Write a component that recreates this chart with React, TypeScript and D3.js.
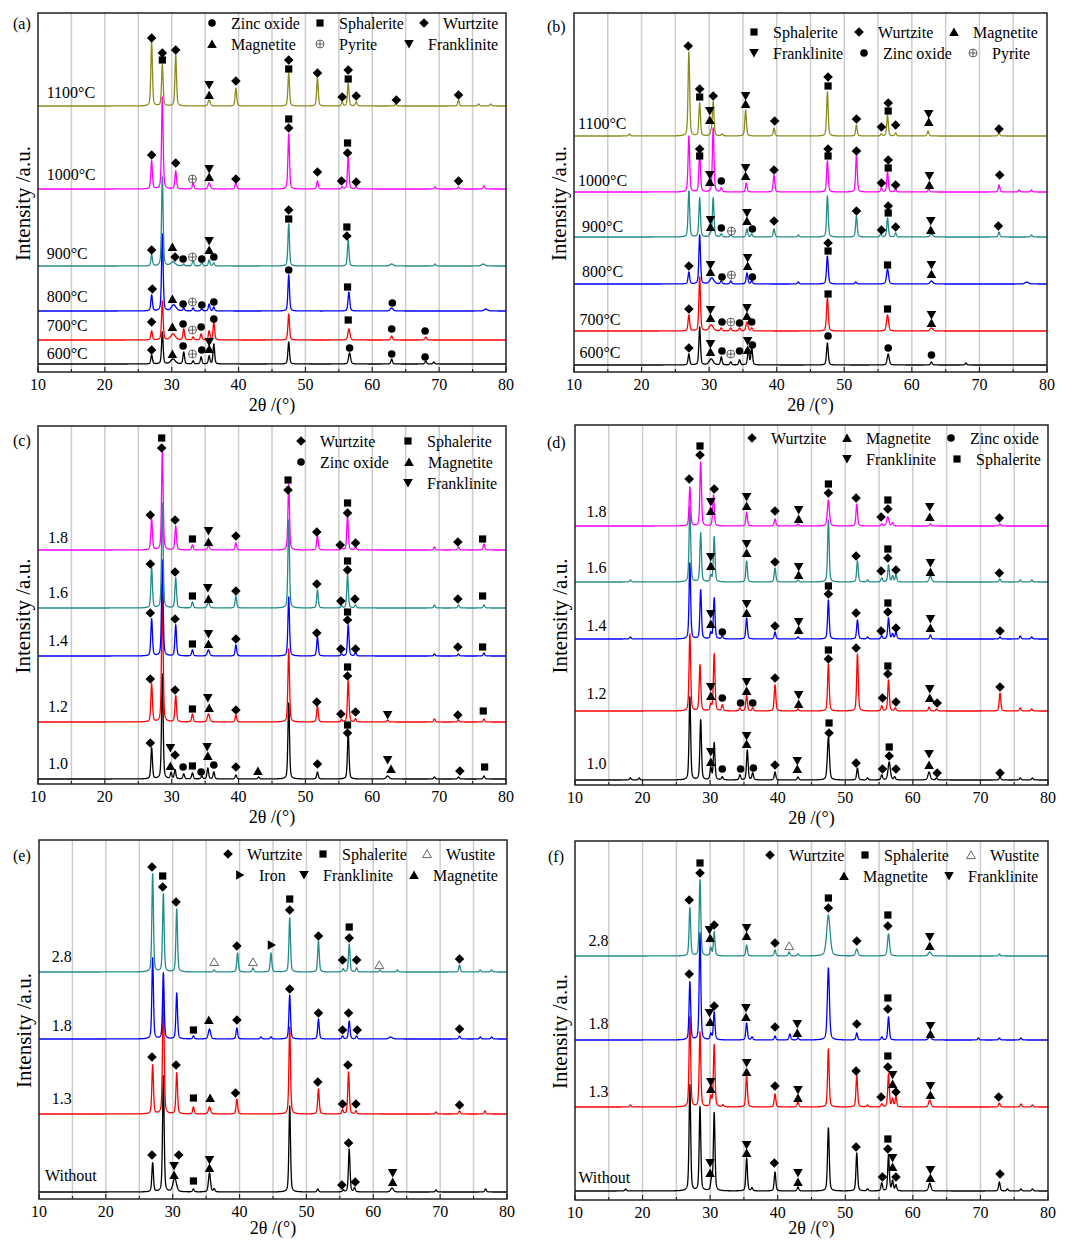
import * as d3 from "d3";
import { useEffect, useRef } from "react";

// symbols: D wurtzite, S sphalerite, C zinc oxide, U magnetite, V franklinite,
// P pyrite, W wustite, R iron. Heights are in a.u. above each panel's bottom.

// ---------- (a) roasting temperature ----------
const aLabels = ["600°C", "700°C", "800°C", "900°C", "1000°C", "1100°C"];
const aColors = ["#000000", "#ff0000", "#0000ff", "#238b8b", "#ff00ff", "#8c8c1e"];
const aBase = [8, 32, 61, 106, 183, 266];
const aLabelPos = [[11.3, 19], [11.3, 47], [11.3, 76], [11.3, 119], [11.3, 198], [11.3, 280]];
const aPeaks = [
  [[27.0, 9], [28.6, 32], [30.2, 5, 0.4], [31.8, 12], [33.2, 3], [34.4, 7], [35.6, 8], [36.3, 20], [47.5, 22], [56.6, 11, 0.18], [62.9, 5], [68.0, 3], [69.2, 2]],
  [[27.0, 9], [28.6, 39], [30.2, 6, 0.4], [31.8, 11], [33.2, 3], [34.4, 6], [35.6, 9], [36.3, 18], [47.5, 26], [56.5, 11, 0.18], [62.9, 4], [68.0, 3]],
  [[27.0, 16], [28.6, 77], [30.3, 6, 0.4], [31.8, 3], [33.2, 3], [34.5, 2], [35.6, 7], [36.3, 4], [47.5, 36], [56.5, 19, 0.15], [62.9, 3, 0.25], [77, 2, 0.3]],
  [[27.0, 11], [28.6, 89], [30.2, 4, 0.4], [31.8, 2], [33.2, 6], [34.5, 4], [35.6, 6], [36.3, 3], [47.5, 42], [56.4, 26], [62.9, 2, 0.3], [69.4, 2], [76.6, 2, 0.3]],
  [[27.0, 28], [28.6, 92], [30.6, 18], [33.2, 6], [35.6, 6, 0.2], [39.6, 7], [47.5, 55], [51.8, 8], [55.5, 2], [56.4, 32], [57.6, 2], [69.4, 2], [72.9, 2], [76.7, 3]],
  [[27.0, 64], [28.6, 41], [30.6, 51], [35.6, 6, 0.2], [39.6, 18], [47.5, 33], [51.8, 28], [55.5, 4], [56.4, 23], [57.6, 4], [63.5, 2], [72.9, 6], [75.9, 2], [77.7, 2]],
];
const aMarks = [
  [27.0, 334, "D"], [28.6, 319, "D"], [28.6, 312, "S"], [30.6, 322, "D"], [35.6, 287, "V"], [35.6, 277, "U"],
  [39.6, 291, "D"], [47.5, 312, "D"], [47.5, 303, "S"], [51.8, 299, "D"], [56.4, 302, "D"], [56.4, 293, "S"],
  [55.5, 275, "D"], [57.6, 276, "D"], [63.6, 272, "D"], [72.9, 277, "D"],
  [27.0, 217, "D"], [30.6, 209, "D"], [33.1, 193, "P"], [35.6, 203, "V"], [35.6, 195, "U"], [39.6, 193, "D"],
  [47.5, 253, "S"], [47.5, 244, "D"], [51.8, 200, "D"], [55.4, 191, "D"], [56.3, 229, "S"], [56.3, 219, "D"],
  [57.6, 190, "D"], [72.9, 191, "D"],
  [27.0, 122, "D"], [30.1, 125, "U"], [30.5, 115, "D"], [31.7, 113, "C"], [33.1, 115, "P"], [34.5, 113, "C"],
  [35.6, 131, "V"], [35.6, 122, "U"], [36.3, 115, "C"], [47.5, 162, "D"], [47.5, 153, "S"], [56.2, 145, "S"], [56.2, 136, "D"],
  [27.1, 83, "D"], [30.1, 73, "U"], [31.7, 68, "C"], [33.1, 70, "P"], [34.5, 67, "C"], [36.3, 70, "C"],
  [47.5, 102, "C"], [56.3, 85, "S"], [63.0, 69, "C"],
  [27.0, 50, "D"], [30.1, 45, "U"], [31.7, 48, "C"], [33.1, 42, "P"], [34.4, 45, "C"], [36.3, 53, "C"],
  [56.4, 52, "S"], [62.9, 43, "C"], [67.9, 41, "C"],
  [27.0, 22, "D"], [30.1, 18, "U"], [31.7, 26, "C"], [33.1, 18, "P"], [34.5, 22, "C"], [35.6, 30, "V"], [35.6, 23, "U"],
  [56.6, 24, "C"], [62.9, 18, "C"], [67.9, 15, "C"],
];
const aLegend = [["C", "Zinc oxide"], ["S", "Sphalerite"], ["D", "Wurtzite"], ["U", "Magnetite"], ["P", "Pyrite"], ["V", "Franklinite"]];

// ---------- (b) ----------
const bLabels = aLabels;
const bColors = aColors;
const bBase = [7, 41, 88, 135, 180, 236];
const bLabelPos = [[10.8, 20], [10.8, 53], [11.2, 101], [11.2, 146], [10.6, 192], [10.6, 249]];
const bPeaks = [
  [[27.0, 11], [28.6, 38], [30.3, 6, 0.35], [31.8, 8], [33.2, 3], [34.5, 5], [35.8, 15], [36.3, 18], [47.5, 22, 0.15], [56.5, 11, 0.18], [62.9, 3], [68, 2]],
  [[27.0, 16], [28.6, 54], [30.3, 6, 0.35], [31.8, 3], [33.2, 3], [34.5, 3], [35.6, 9, 0.18], [36.3, 3], [47.5, 33, 0.15], [56.4, 16, 0.18], [62.9, 3, 0.25]],
  [[27.0, 12], [28.6, 49], [30.4, 6, 0.35], [31.8, 3], [33.2, 3], [35.6, 11, 0.15], [36.3, 3], [43.2, 2], [47.5, 28, 0.15], [51.7, 2], [56.4, 15, 0.18], [62.9, 3, 0.25], [77, 2, 0.3]],
  [[27.0, 46], [28.6, 39], [30.6, 39], [30.2, 3], [31.8, 3], [33.2, 2], [35.6, 8], [36.3, 3], [39.6, 8], [43.2, 2], [47.5, 41], [51.8, 21], [55.4, 3], [56.4, 19], [57.6, 4], [62.9, 3, 0.25], [72.9, 5], [77.7, 2]],
  [[27.0, 56], [28.6, 39], [30.6, 64], [31.8, 4], [35.5, 9], [39.6, 17], [47.5, 31], [51.8, 37], [55.5, 4], [56.4, 20], [57.6, 3], [62.5, 3], [72.9, 7], [75.9, 2], [77.7, 2]],
  [[18.2, 2], [27.0, 84], [28.6, 33], [30.3, 4], [30.6, 34], [31.9, 2], [35.4, 26], [39.6, 8], [47.5, 44], [51.8, 11], [55.5, 2], [56.4, 21], [57.6, 3], [62.4, 5], [72.9, 3]],
];
const bMarks = [
  [26.9, 326, "D"], [28.6, 283, "D"], [28.6, 275, "S"], [30.1, 261, "V"], [30.1, 252, "U"], [30.6, 276, "D"],
  [35.4, 276, "V"], [35.4, 268, "U"], [39.7, 251, "D"], [47.6, 295, "D"], [47.6, 286, "S"], [51.8, 253, "D"],
  [55.5, 245, "D"], [56.5, 269, "D"], [56.5, 261, "S"], [57.6, 247, "D"], [62.5, 258, "V"], [62.5, 250, "U"], [72.9, 243, "D"],
  [28.6, 223, "D"], [28.6, 216, "S"], [30.1, 197, "V"], [30.1, 190, "U"], [31.8, 191, "C"], [35.4, 204, "V"], [35.4, 196, "U"],
  [39.6, 202, "D"], [47.6, 223, "D"], [47.6, 216, "S"], [51.8, 221, "D"], [55.5, 189, "D"], [56.5, 212, "D"], [56.5, 204, "S"],
  [57.6, 187, "D"], [62.6, 196, "V"], [62.6, 187, "U"], [73.0, 197, "D"],
  [30.2, 152, "V"], [30.2, 145, "U"], [31.8, 144, "C"], [33.3, 141, "P"], [35.6, 159, "V"], [35.6, 151, "U"], [36.4, 143, "C"],
  [39.6, 151, "D"], [51.8, 161, "D"], [55.5, 142, "D"], [56.5, 166, "D"], [56.5, 159, "S"], [57.6, 145, "D"],
  [62.8, 151, "V"], [62.8, 142, "U"], [72.8, 146, "D"],
  [27.0, 106, "D"], [30.2, 107, "V"], [30.2, 100, "U"], [31.9, 95, "C"], [33.3, 97, "P"], [35.7, 114, "V"], [35.7, 106, "U"],
  [36.4, 95, "C"], [47.6, 129, "D"], [47.6, 121, "S"], [56.4, 107, "S"], [62.9, 107, "V"], [62.9, 98, "U"],
  [27.0, 63, "D"], [30.2, 62, "V"], [30.2, 54, "U"], [31.9, 50, "C"], [33.2, 50, "P"], [34.5, 49, "C"], [35.6, 64, "V"], [35.6, 56, "U"],
  [36.3, 50, "C"], [47.6, 78, "S"], [56.4, 63, "S"], [62.9, 57, "V"], [62.9, 49, "U"],
  [27.0, 24, "D"], [30.2, 28, "V"], [30.2, 20, "U"], [31.9, 21, "C"], [33.2, 18, "P"], [34.5, 21, "C"], [35.7, 31, "V"], [35.7, 22, "U"],
  [36.4, 27, "C"], [47.6, 36, "C"], [56.5, 24, "C"], [62.9, 17, "C"],
];
const bLegend = [["S", "Sphalerite"], ["D", "Wurtzite"], ["U", "Magnetite"], ["V", "Franklinite"], ["C", "Zinc oxide"], ["P", "Pyrite"]];

// ---------- (c) ----------
const cLabels = ["1.0", "1.2", "1.4", "1.6", "1.8"];
const cColors = ["#000000", "#ff0000", "#0000ff", "#238b8b", "#ff00ff"];
const cBase = [5, 62, 128, 176, 234];
const cLabelPos = [[11.5, 21], [11.5, 78], [11.5, 144], [11.5, 192], [11.5, 247]];
const cPeaks = [
  [[27.0, 31], [28.6, 105], [29.9, 6], [30.5, 9], [31.8, 5], [33.1, 6], [34.5, 3], [35.4, 11], [36.3, 7], [39.6, 4], [43, 2], [47.5, 76], [51.8, 7], [56.4, 46], [62.3, 3, 0.25], [69.3, 2], [72.9, 2], [76.7, 3]],
  [[27.0, 38], [28.6, 129], [30.6, 26], [33.1, 8], [35.5, 8, 0.2], [39.6, 7], [47.5, 73], [51.8, 16], [55.4, 2], [56.4, 41], [57.5, 3], [62.3, 2], [69.3, 3], [72.9, 2], [76.7, 3]],
  [[27.0, 37], [28.6, 96], [30.6, 31], [33.1, 6], [35.5, 6, 0.2], [39.6, 11], [47.5, 59], [51.8, 19], [55.4, 2], [56.4, 31], [57.5, 3], [69.3, 2], [72.9, 2], [76.7, 3]],
  [[27.0, 40], [28.6, 105], [30.6, 30], [33.1, 6], [35.5, 6, 0.2], [39.6, 12], [47.5, 88], [51.8, 18], [55.4, 2], [56.3, 33], [57.5, 3], [69.3, 3], [72.9, 3], [76.7, 3]],
  [[27.0, 31], [28.6, 99], [30.6, 24], [33.1, 5], [35.5, 4, 0.2], [39.6, 7], [47.5, 66], [51.8, 14], [55.4, 2], [56.3, 34], [57.5, 3], [69.3, 3], [72.9, 3], [76.7, 6]],
];
const cMarks = [
  [26.8, 269, "D"], [28.5, 346, "S"], [28.5, 336, "D"], [30.5, 264, "D"], [33.1, 245, "S"], [35.5, 253, "V"], [35.5, 242, "U"],
  [39.6, 248, "D"], [47.4, 304, "S"], [47.4, 294, "D"], [51.7, 252, "D"], [55.2, 239, "D"], [56.3, 281, "S"], [56.3, 271, "D"],
  [57.5, 241, "D"], [72.8, 242, "D"], [76.5, 245, "S"],
  [26.8, 220, "D"], [30.5, 212, "D"], [33.1, 188, "S"], [35.4, 196, "V"], [35.5, 185, "U"], [39.6, 193, "D"], [51.7, 200, "D"],
  [55.3, 183, "D"], [56.3, 223, "S"], [56.3, 214, "D"], [57.4, 185, "D"], [72.8, 185, "D"], [76.5, 188, "S"],
  [26.8, 171, "D"], [30.5, 165, "D"], [33.1, 140, "S"], [35.5, 150, "V"], [35.5, 140, "U"], [39.6, 145, "D"], [51.7, 151, "D"],
  [55.3, 135, "D"], [56.3, 172, "S"], [56.3, 164, "D"], [57.5, 135, "D"], [72.8, 137, "D"], [76.5, 137, "S"],
  [26.8, 105, "D"], [30.5, 94, "D"], [33.1, 75, "S"], [35.4, 86, "V"], [35.6, 76, "U"], [39.6, 74, "D"], [51.7, 82, "D"],
  [55.3, 70, "D"], [56.3, 117, "S"], [56.3, 108, "D"], [57.5, 72, "D"], [62.3, 69, "V"], [72.8, 69, "D"], [76.6, 73, "S"],
  [26.8, 41, "D"], [29.8, 36, "V"], [29.8, 18, "U"], [30.5, 29, "D"], [31.7, 17, "C"], [33.1, 18, "S"], [34.4, 12, "C"],
  [35.3, 37, "V"], [35.4, 28, "U"], [36.3, 19, "C"], [39.6, 17, "D"], [42.9, 13, "U"], [51.8, 20, "D"], [56.3, 59, "S"], [56.3, 51, "D"],
  [62.3, 24, "V"], [62.8, 15, "U"], [73.1, 13, "D"], [76.8, 17, "S"],
];
const cLegend = [["D", "Wurtzite"], ["S", "Sphalerite"], ["C", "Zinc oxide"], ["U", "Magnetite"], ["V", "Franklinite"]];

// ---------- (d) ----------
const dLabels = cLabels;
const dColors = cColors;
const dBase = [5, 74, 146, 203, 259];
const dLabelPos = [[11.7, 22], [11.7, 92], [11.7, 160], [11.7, 218], [11.7, 274]];
const dPeaks = [
  [[18.2, 2], [19.5, 2], [27.0, 83], [28.6, 60], [30.1, 12], [30.6, 37], [31.8, 3], [34.4, 5], [35.5, 30], [36.3, 7], [39.6, 8], [43, 3], [47.5, 43, 0.18], [51.8, 12], [53.3, 2], [55.4, 5], [56.5, 18, 0.2], [57.3, 3], [62.4, 8, 0.2], [63.5, 2], [72.9, 3], [75.9, 2], [77.7, 2]],
  [[27.0, 77], [28.5, 46], [30.1, 6], [30.6, 57], [31.8, 6], [34.4, 3], [35.4, 16], [36.3, 3], [39.6, 26], [43, 2], [47.5, 47], [51.8, 57], [55.4, 5], [56.4, 31], [57.4, 3], [62.4, 4], [63.5, 2], [72.9, 18], [75.9, 3], [77.6, 2]],
  [[18.2, 2], [27.0, 76], [28.6, 49], [30.1, 6], [30.6, 41], [31.8, 3], [35.4, 21], [39.6, 7], [43, 2], [47.5, 39], [51.8, 19], [53.3, 2], [55.4, 3], [56.4, 21], [57.0, 5], [57.5, 7], [62.6, 4], [72.9, 2], [75.9, 3], [77.6, 2]],
  [[18.2, 2], [27.0, 76], [28.6, 49], [30.1, 6], [30.6, 45], [35.4, 21], [39.6, 14], [43, 2], [47.5, 62], [51.8, 21], [53.3, 2], [55.4, 4], [56.4, 17], [57.0, 6], [57.5, 7], [62.6, 6, 0.2], [72.9, 3], [75.9, 2], [77.6, 2]],
  [[27.0, 39], [28.6, 64], [30.5, 31], [35.4, 14], [39.6, 7], [43, 2], [47.5, 26, 0.18], [51.7, 22], [55.4, 2], [56.3, 9, 0.2], [57.0, 3], [62.6, 2], [72.9, 2]],
];
const dMarks = [
  [26.9, 306, "D"], [28.5, 339, "S"], [28.5, 330, "D"], [30.1, 283, "V"], [30.1, 274, "U"], [30.6, 296, "D"], [35.4, 288, "V"], [35.4, 279, "U"],
  [39.6, 274, "D"], [43.1, 275, "V"], [43.1, 266, "U"], [47.5, 301, "S"], [47.5, 292, "D"], [51.6, 287, "D"], [55.3, 268, "D"],
  [56.3, 285, "S"], [56.3, 276, "D"], [62.5, 278, "V"], [62.5, 268, "U"], [72.8, 267, "D"],
  [30.1, 228, "V"], [30.1, 219, "U"], [35.4, 241, "V"], [35.4, 232, "U"], [39.6, 223, "D"], [43.1, 218, "V"], [43.1, 210, "U"],
  [51.6, 229, "D"], [55.3, 214, "D"], [56.3, 236, "S"], [56.3, 227, "D"], [57.5, 215, "D"], [62.6, 222, "V"], [62.6, 213, "U"], [72.8, 212, "D"],
  [30.1, 171, "V"], [30.1, 161, "U"], [31.8, 153, "C"], [35.4, 181, "V"], [35.4, 172, "U"], [39.6, 159, "D"], [43.1, 163, "V"], [43.1, 155, "U"],
  [47.5, 199, "S"], [47.5, 191, "D"], [51.6, 172, "D"], [55.3, 154, "D"], [56.3, 182, "S"], [56.3, 173, "D"], [57.5, 157, "D"],
  [62.6, 166, "V"], [62.6, 157, "U"], [72.9, 154, "D"],
  [30.1, 98, "V"], [30.1, 89, "U"], [31.8, 87, "C"], [34.5, 82, "C"], [35.4, 103, "V"], [35.4, 94, "U"], [36.3, 82, "C"], [39.6, 107, "D"],
  [43.1, 90, "V"], [43.1, 81, "U"], [47.5, 135, "S"], [47.5, 126, "D"], [51.6, 137, "D"], [55.5, 87, "D"], [56.3, 119, "S"], [56.3, 111, "D"],
  [57.5, 83, "D"], [62.5, 96, "V"], [62.5, 87, "U"], [63.6, 82, "D"], [72.9, 98, "D"],
  [30.1, 33, "V"], [30.1, 23, "U"], [31.8, 16, "C"], [34.5, 16, "C"], [35.4, 49, "V"], [35.4, 41, "U"], [36.4, 17, "C"], [39.6, 20, "D"],
  [42.9, 24, "V"], [42.9, 16, "U"], [47.6, 62, "S"], [47.6, 52, "D"], [51.6, 22, "D"], [55.5, 16, "D"], [56.5, 38, "S"], [56.5, 29, "D"],
  [57.5, 16, "D"], [62.4, 31, "V"], [62.4, 20, "U"], [63.6, 12, "D"], [72.9, 12, "D"],
];
const dLegend = [["D", "Wurtzite"], ["U", "Magnetite"], ["C", "Zinc oxide"], ["V", "Franklinite"], ["S", "Sphalerite"]];

// ---------- (e) ----------
const eLabels = ["Without", "1.3", "1.8", "2.8"];
const eColors = ["#000000", "#ff0000", "#0000ff", "#238b8b"];
const eBase = [7, 85, 160, 227];
const eLabelPos = [[10.9, 24], [11.9, 101], [11.9, 174], [11.9, 243]];
const ePeaks = [
  [[27.0, 29], [28.6, 116], [30.3, 14, 0.3], [33.1, 3], [35.5, 19, 0.18], [36.2, 3], [47.5, 86], [51.7, 3], [55.5, 2], [56.4, 43], [57.2, 4], [62.8, 4, 0.25], [69.4, 2], [76.8, 3]],
  [[27.0, 49], [28.6, 124], [30.6, 41], [33.1, 7], [35.5, 7, 0.2], [39.6, 15], [47.5, 87], [51.8, 25], [55.4, 4], [56.3, 42], [57.4, 3], [69.4, 2], [72.9, 3], [76.7, 3]],
  [[27.0, 81], [28.6, 66], [30.6, 46], [33.1, 3], [35.5, 10, 0.2], [39.6, 11], [43.2, 2], [44.7, 2], [47.5, 44], [51.8, 20], [55.4, 3], [56.4, 18], [57.5, 3], [62.6, 2, 0.3], [72.9, 3], [76, 2], [77.7, 2]],
  [[27.0, 98], [28.6, 78], [30.6, 63], [36.2, 2], [39.7, 19], [42.0, 4], [44.7, 19], [47.5, 54], [51.8, 31], [55.5, 3], [56.4, 28], [57.5, 4], [61, 2], [63.6, 2], [72.9, 7], [76, 2], [77.7, 2]],
];
const eMarks = [
  [26.9, 332, "D"], [28.5, 323, "S"], [28.5, 312, "D"], [30.5, 297, "D"], [36.2, 237, "W"], [39.6, 253, "D"], [42.0, 237, "W"],
  [44.8, 254, "R"], [47.5, 300, "S"], [47.5, 289, "D"], [51.8, 263, "D"], [56.4, 272, "S"], [56.4, 261, "D"], [55.4, 239, "D"],
  [57.5, 239, "D"], [60.9, 234, "W"], [72.9, 240, "D"],
  [33.1, 169, "S"], [35.4, 179, "U"], [39.6, 179, "D"], [47.5, 210, "D"], [51.8, 186, "D"], [55.4, 169, "D"], [56.3, 186, "D"],
  [57.6, 169, "D"], [72.9, 170, "D"],
  [26.9, 142, "D"], [30.5, 134, "D"], [33.1, 101, "S"], [35.6, 101, "U"], [39.4, 106, "D"], [51.7, 117, "D"], [55.4, 95, "D"],
  [56.2, 134, "D"], [57.4, 95, "D"], [72.9, 94, "D"],
  [26.9, 44, "D"], [30.2, 33, "V"], [30.2, 24, "U"], [30.9, 44, "D"], [33.1, 18, "S"], [35.5, 39, "V"], [35.5, 31, "U"],
  [56.3, 56, "D"], [55.3, 14, "D"], [57.3, 17, "D"], [62.9, 26, "V"], [62.9, 17, "U"],
];
const eLegend = [["D", "Wurtzite"], ["S", "Sphalerite"], ["W", "Wustite"], ["R", "Iron"], ["V", "Franklinite"], ["U", "Magnetite"]];

// ---------- (f) ----------
const fLabels = eLabels;
const fColors = eColors;
const fBase = [9, 93, 160, 244];
const fLabelPos = [[10.5, 23], [12.0, 109], [12.0, 177], [12.0, 260]];
const fPeaks = [
  [[17.5, 2], [27.0, 106], [28.5, 84], [30.2, 10], [30.6, 78], [35.4, 33], [36.2, 3], [39.6, 19], [43.0, 4], [47.5, 63, 0.15], [51.7, 38], [53.3, 2], [55.4, 8], [56.4, 36], [57.0, 10], [57.5, 6], [62.5, 8, 0.2], [72.8, 9], [74, 2], [76, 2], [77.7, 2]],
  [[18.2, 2], [27.0, 90], [28.5, 75], [30.1, 10], [30.6, 62], [31.9, 2], [35.4, 32], [39.6, 13], [43.0, 5], [47.5, 58], [51.7, 32], [53.3, 2], [55.4, 3], [56.4, 33], [57.0, 8], [57.5, 10], [62.5, 7, 0.2], [72.8, 4], [76, 3], [77.7, 2]],
  [[27.0, 58], [28.5, 107], [30.1, 6], [30.6, 28], [35.4, 17], [36.2, 3], [39.6, 4], [41.8, 6], [43.0, 2], [47.5, 72, 0.18], [51.7, 7], [55.4, 3], [56.4, 23], [62.5, 3, 0.25], [69.7, 2], [72.8, 2], [76, 2]],
  [[27.0, 48], [28.5, 76], [30.1, 8], [30.6, 24], [35.4, 11], [39.6, 6], [41.7, 4], [43, 2], [47.5, 41, 0.3], [51.7, 7, 0.2], [56.4, 22, 0.18], [62.5, 4, 0.25], [72.8, 2]],
];
const fMarks = [
  [26.9, 300, "D"], [28.5, 337, "S"], [28.5, 327, "D"], [29.9, 270, "V"], [30.0, 262, "U"], [30.6, 275, "D"], [35.4, 272, "V"], [35.4, 264, "U"],
  [39.6, 257, "D"], [41.7, 254, "W"], [47.5, 302, "S"], [47.5, 292, "D"], [51.7, 259, "D"], [56.3, 285, "S"], [56.3, 274, "D"],
  [62.5, 263, "V"], [62.5, 254, "U"],
  [26.9, 226, "D"], [29.9, 187, "V"], [30.0, 178, "U"], [30.6, 194, "D"], [35.3, 192, "V"], [35.3, 183, "U"], [39.6, 173, "D"],
  [42.9, 176, "V"], [42.9, 167, "U"], [51.7, 176, "D"], [56.3, 202, "S"], [56.3, 191, "D"], [62.6, 174, "V"], [62.6, 166, "U"],
  [30.1, 118, "V"], [30.1, 111, "U"], [35.4, 137, "V"], [35.4, 128, "U"], [39.6, 114, "D"], [43.0, 110, "V"], [43.0, 102, "U"],
  [51.6, 129, "D"], [55.3, 103, "D"], [56.3, 144, "S"], [56.3, 133, "D"], [57.0, 125, "V"], [57.0, 116, "U"], [57.5, 108, "D"],
  [62.6, 114, "V"], [62.6, 105, "U"], [72.7, 103, "D"],
  [30.0, 37, "V"], [30.0, 27, "U"], [35.4, 55, "V"], [35.4, 47, "U"], [39.5, 37, "D"], [43.0, 27, "V"], [43.0, 18, "U"],
  [51.6, 53, "D"], [55.5, 23, "D"], [56.3, 61, "S"], [56.3, 51, "D"], [57.0, 42, "V"], [57.0, 33, "U"], [57.5, 23, "D"],
  [62.6, 30, "V"], [62.6, 22, "U"], [72.9, 26, "D"],
];
const fLegend = [["D", "Wurtzite"], ["S", "Sphalerite"], ["W", "Wustite"], ["U", "Magnetite"], ["V", "Franklinite"]];

const xTicks = [10, 20, 30, 40, 50, 60, 70, 80];
const gridLines = [15, 20, 25, 30, 35, 40, 45, 50, 55, 60, 65, 70, 75];

// layout of each panel: plot box, tag, legend text anchors
const panels: any[] = [
  { tag: "(a)", tagPos: [13, 23], box: [38, 506, 13, 372], titleDy: 33, labels: aLabels, colors: aColors, base: aBase, peaks: aPeaks, marks: aMarks, labelPos: aLabelPos,
    legend: aLegend, legendPos: [[231, 23], [339, 23], [443, 23], [231, 44], [339, 44], [428, 44]] },
  { tag: "(b)", tagPos: [547, 26], box: [574, 1047, 13, 372], titleDy: 33, labels: bLabels, colors: bColors, base: bBase, peaks: bPeaks, marks: bMarks, labelPos: bLabelPos,
    legend: bLegend, legendPos: [[773, 32], [878, 32], [973, 32], [773, 53], [883, 53], [992, 53]] },
  { tag: "(c)", tagPos: [13, 440], box: [38, 506, 426, 784], titleDy: 33, labels: cLabels, colors: cColors, base: cBase, peaks: cPeaks, marks: cMarks, labelPos: cLabelPos,
    legend: cLegend, legendPos: [[320, 441], [427, 441], [320, 462], [428, 462], [427, 483]] },
  { tag: "(d)", tagPos: [547, 442], box: [575, 1048, 425, 785], titleDy: 33, labels: dLabels, colors: dColors, base: dBase, peaks: dPeaks, marks: dMarks, labelPos: dLabelPos,
    legend: dLegend, legendPos: [[771, 438], [866, 438], [970, 438], [866, 459], [976, 459]] },
  { tag: "(e)", tagPos: [13, 855], box: [39, 507, 840, 1199], titleDy: 29, labels: eLabels, colors: eColors, base: eBase, peaks: ePeaks, marks: eMarks, labelPos: eLabelPos,
    legend: eLegend, legendPos: [[247, 854], [342, 854], [446, 854], [259, 875], [323, 875], [433, 875]] },
  { tag: "(f)", tagPos: [548, 856], box: [575, 1048, 841, 1200], titleDy: 28, labels: fLabels, colors: fColors, base: fBase, peaks: fPeaks, marks: fMarks, labelPos: fLabelPos,
    legend: fLegend, legendPos: [[789, 855], [884, 855], [990, 855], [863, 876], [968, 876]] },
];

const FONT = "'Liberation Serif', 'Times New Roman', serif";

const drawSymbol = (g: any, s: string, x: number, y: number) => {
  const t = g.append("g").attr("transform", `translate(${x},${y})`);
  if (s === "C") {
    t.append("circle").attr("r", 3.8).attr("fill", "#000");
  } else if (s === "P") {
    t.append("circle").attr("r", 4).attr("fill", "#fff").attr("stroke", "#444").attr("stroke-width", 0.8);
    t.append("path").attr("d", "M-4,0H4M0,-4V4").attr("stroke", "#444").attr("stroke-width", 0.8);
  } else if (s === "W") {
    t.append("path").attr("d", "M0,-4.2L4.4,3.6H-4.4Z").attr("fill", "#fff").attr("stroke", "#555").attr("stroke-width", 0.9);
  } else {
    const paths: any = {
      D: "M0,-4.8L4.8,0L0,4.8L-4.8,0Z",
      S: "M-3.6,-3.6H3.6V3.6H-3.6Z",
      U: "M0,-4.4L4.8,3.9H-4.8Z",
      V: "M0,4.4L4.8,-3.9H-4.8Z",
      R: "M-3.9,-4.8L4.4,0L-3.9,4.8Z",
    };
    t.append("path").attr("d", paths[s]).attr("fill", "#000");
  }
};

const profile = (base: number, peaks: number[][]) =>
  d3.range(10, 80.001, 0.02).map((x) => [
    x,
    base + d3.sum(peaks, (p) => {
      const w = p[2] ?? 0.14;
      const t = (x - p[0]) / w;
      return p[1] * (0.6 * Math.exp(-0.693 * t * t) + 0.4 / (1 + t * t));
    }),
  ]);

const App = () => {
  const ref: any = useRef();

  useEffect(() => {
    const svg = d3.select(ref.current);
    svg.selectAll("*").remove();
    svg.append("rect").attr("width", 1069).attr("height", 1240).attr("fill", "#fff");

    panels.forEach((p) => {
      const [x0, x1, y0, y1] = p.box;
      const x = d3.scaleLinear().domain([10, 80]).range([x0, x1]);
      const y = d3.scaleLinear().domain([0, y1 - y0]).range([y1, y0]);
      const g = svg.append("g");

      // vertical grid
      g.selectAll(".grid").data(gridLines).join("line")
        .attr("x1", (d) => x(d)).attr("x2", (d) => x(d))
        .attr("y1", y0).attr("y2", y1)
        .attr("stroke", "#cccccc").attr("stroke-width", 1.5);

      // patterns
      const line = d3.line().x((d: any) => x(d[0])).y((d: any) => y(d[1]));
      p.peaks.forEach((pk: number[][], i: number) => {
        g.append("path")
          .attr("d", line(profile(p.base[i], pk) as any))
          .attr("fill", "none").attr("stroke", p.colors[i]).attr("stroke-width", 1.3)
          .attr("stroke-linejoin", "round");
        g.append("text")
          .attr("x", x(p.labelPos[i][0])).attr("y", y(p.labelPos[i][1]))
          .attr("dy", "0.35em")
          .attr("font-family", FONT).attr("font-size", 16).attr("fill", "#000")
          .text(p.labels[i]);
      });

      // phase markers
      p.marks.forEach((m: any) => drawSymbol(g, m[2], x(m[0]), y(m[1])));

      // frame and ticks
      g.append("rect").attr("x", x0).attr("y", y0).attr("width", x1 - x0).attr("height", y1 - y0)
        .attr("fill", "none").attr("stroke", "#222").attr("stroke-width", 1.5);
      g.selectAll(".tk").data(d3.range(10, 80.1, 5)).join("line")
        .attr("x1", (d) => x(d)).attr("x2", (d) => x(d))
        .attr("y1", y1).attr("y2", (d) => y1 - (d % 10 === 0 ? 5 : 3))
        .attr("stroke", "#222").attr("stroke-width", 1.1);
      g.selectAll(".tl").data(xTicks).join("text")
        .attr("x", (d) => x(d)).attr("y", y1 + 12).attr("dy", "0.35em")
        .attr("text-anchor", "middle").attr("font-family", FONT).attr("font-size", 16)
        .text((d) => d);

      // axis titles
      g.append("text")
        .attr("x", (x0 + x1) / 2).attr("y", y1 + p.titleDy).attr("dy", "0.35em")
        .attr("text-anchor", "middle").attr("font-family", FONT).attr("font-size", 18)
        .text("2θ /(°)");
      g.append("text")
        .attr("transform", `translate(${x0 - 15},${(y0 + y1) / 2 + 11}) rotate(-90)`)
        .attr("text-anchor", "middle").attr("font-family", FONT).attr("font-size", 21)
        .attr("dy", "0.35em")
        .text("Intensity /a.u.");
      g.append("text")
        .attr("x", p.tagPos[0]).attr("y", p.tagPos[1]).attr("dy", "0.35em")
        .attr("font-family", FONT).attr("font-size", 16)
        .text(p.tag);

      // legend
      p.legend.forEach((l: string[], i: number) => {
        const [tx, ty] = p.legendPos[i];
        drawSymbol(g, l[0], tx - 19, ty);
        g.append("text")
          .attr("x", tx).attr("y", ty).attr("dy", "0.35em")
          .attr("font-family", FONT).attr("font-size", 16)
          .text(l[1]);
      });
    });
  }, []);

  return (
    <svg ref={ref} width={1069} height={1240}
      style={{ position: "absolute", left: 0, top: 0, display: "block" }} />
  );
};

export default App;
